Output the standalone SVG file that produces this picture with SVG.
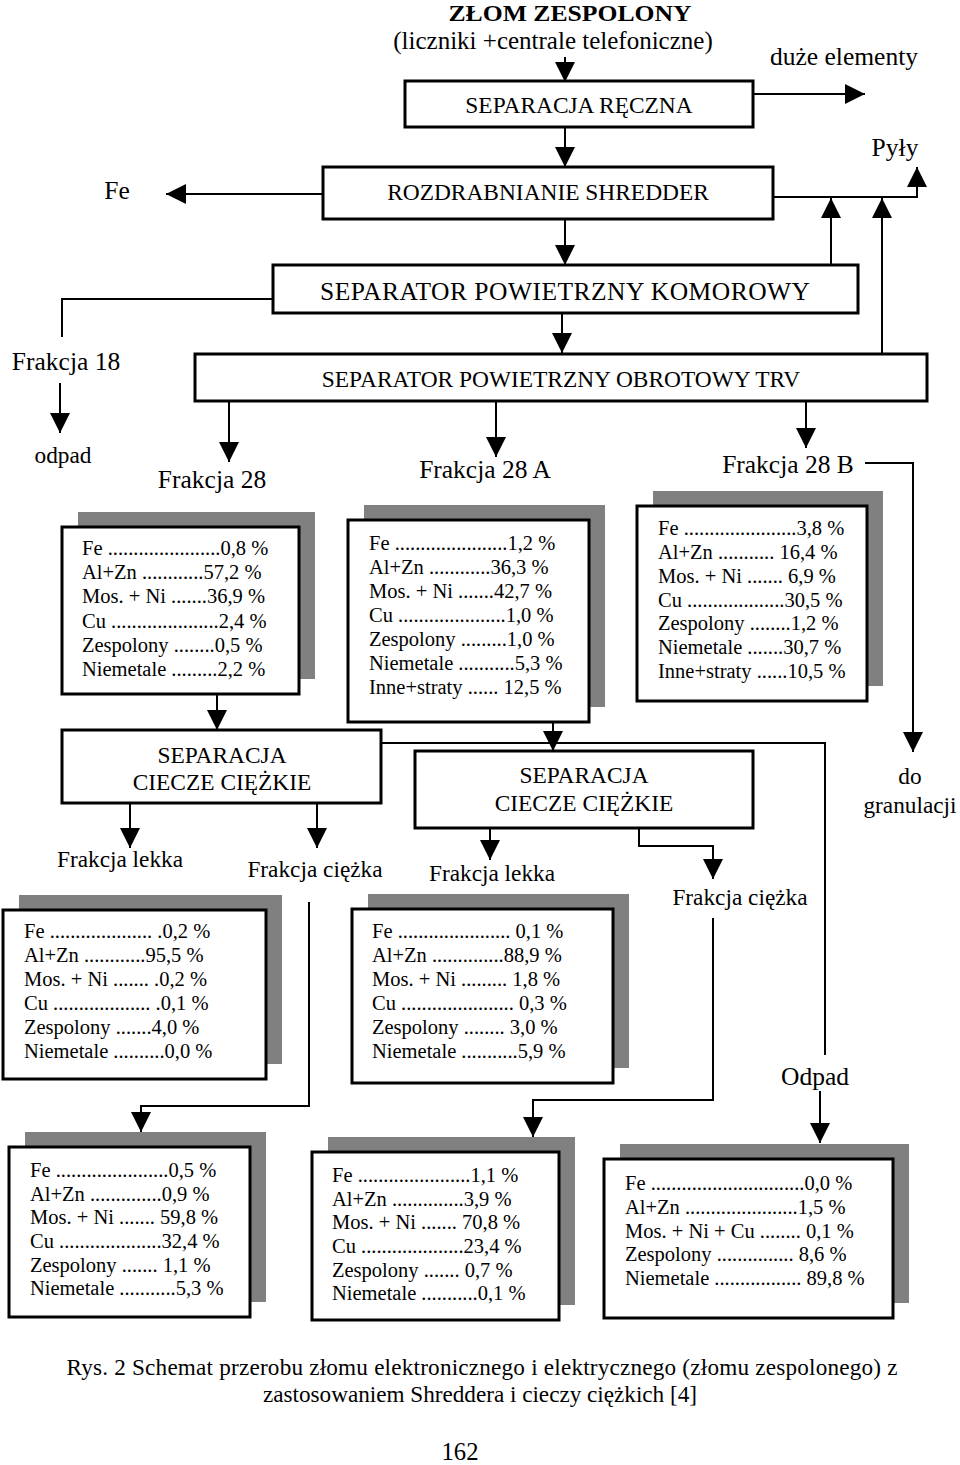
<svg xmlns="http://www.w3.org/2000/svg" width="960" height="1465" viewBox="0 0 960 1465">
<defs>
<style>
.t{font-family:"Liberation Serif","Times New Roman",serif;fill:#000;white-space:pre}
.h{font-size:23.4px;text-anchor:middle}
.l{font-size:25.5px;text-anchor:middle}
.m{font-size:23.3px;text-anchor:middle}
.d{font-size:20.5px}
.box{fill:#fff;stroke:#000;stroke-width:3}
.sh{fill:#808080}
.c{fill:none;stroke:#000;stroke-width:2}
.a{marker-end:url(#ah)}
</style>
<marker id="ah" markerUnits="userSpaceOnUse" markerWidth="20" markerHeight="20" refX="20" refY="10" orient="auto" viewBox="0 0 20 20"><path d="M0,0 L20,10 L0,20 Z" fill="#000"/></marker>
</defs>
<rect width="960" height="1465" fill="#fff"/>

<g id="title" class="t">
<text x="570" y="21" style="font-size:23.8px;font-weight:bold;text-anchor:middle" textLength="243" lengthAdjust="spacingAndGlyphs">ZŁOM ZESPOLONY</text>
<text x="553" y="49" style="font-size:25px;text-anchor:middle">(liczniki +centrale telefoniczne)</text>
</g>
<g id="separacja-reczna" class="t">
<rect class="box" x="405" y="81" width="348" height="46"/>
<text x="579" y="113" class="h">SEPARACJA RĘCZNA</text>
</g>
<g id="duze-elementy" class="t"><text x="844" y="65" class="l">duże elementy</text></g>
<g id="shredder" class="t">
<rect class="box" x="323" y="167" width="450" height="52"/>
<text x="548" y="200" class="h">ROZDRABNIANIE  SHREDDER</text>
</g>
<g id="fe" class="t"><text x="117" y="199" class="l">Fe</text></g>
<g id="pyly" class="t"><text x="895" y="156" class="l">Pyły</text></g>
<g id="komorowy" class="t">
<rect class="box" x="273" y="265" width="585" height="48"/>
<text x="565" y="300" style="font-size:25.5px;text-anchor:middle" textLength="490" lengthAdjust="spacing">SEPARATOR POWIETRZNY KOMOROWY</text>
</g>
<g id="frakcja-18" class="t"><text x="66" y="370" class="l">Frakcja 18</text></g>
<g id="odpad-18" class="t"><text x="63" y="463" class="m">odpad</text></g>
<g id="trv" class="t">
<rect class="box" x="195" y="354" width="732" height="47"/>
<text x="561" y="387" class="h">SEPARATOR POWIETRZNY OBROTOWY TRV</text>
</g>
<g id="frakcja-28-label" class="t"><text x="212" y="488" class="l">Frakcja 28</text></g>
<g id="frakcja-28a-label" class="t"><text x="485" y="478" class="l">Frakcja 28 A</text></g>
<g id="frakcja-28b-label" class="t"><text x="788" y="473" class="l">Frakcja 28 B</text></g>

<g id="box-28" class="t d">
<rect class="sh" x="78" y="512" width="237" height="167"/>
<rect class="box" x="62" y="527" width="237" height="167"/>
<text x="82" y="555">Fe ......................0,8 %</text>
<text x="82" y="579">Al+Zn ............57,2 %</text>
<text x="82" y="603">Mos. + Ni .......36,9 %</text>
<text x="82" y="628">Cu .....................2,4 %</text>
<text x="82" y="652">Zespolony  ........0,5 %</text>
<text x="82" y="676">Niemetale .........2,2 %</text>
</g>
<g id="box-28a" class="t d">
<rect class="sh" x="364" y="505" width="241" height="202"/>
<rect class="box" x="348" y="520" width="241" height="202"/>
<text x="369" y="550">Fe ......................1,2 %</text>
<text x="369" y="574">Al+Zn ............36,3  %</text>
<text x="369" y="598">Mos. + Ni .......42,7  %</text>
<text x="369" y="622">Cu .....................1,0  %</text>
<text x="369" y="646">Zespolony  .........1,0  %</text>
<text x="369" y="670">Niemetale ...........5,3 %</text>
<text x="369" y="694">Inne+straty ...... 12,5 %</text>
</g>
<g id="box-28b" class="t d">
<rect class="sh" x="653" y="491" width="230" height="195"/>
<rect class="box" x="637" y="506" width="230" height="195"/>
<text x="658" y="535">Fe ......................3,8 %</text>
<text x="658" y="559">Al+Zn ........... 16,4 %</text>
<text x="658" y="583">Mos. + Ni .......  6,9  %</text>
<text x="658" y="607">Cu ...................30,5  %</text>
<text x="658" y="630">Zespolony  ........1,2  %</text>
<text x="658" y="654">Niemetale .......30,7  %</text>
<text x="658" y="678">Inne+straty ......10,5 %</text>
</g>
<g id="do-granulacji" class="t">
<text x="910" y="784" class="m">do</text>
<text x="910" y="813" class="m">granulacji</text>
</g>
<g id="separacja-ciecze-1" class="t">
<rect class="box" x="62" y="730" width="319" height="73"/>
<text x="222" y="763" class="h">SEPARACJA</text>
<text x="222" y="790" class="h">CIECZE CIĘŻKIE</text>
</g>
<g id="separacja-ciecze-2" class="t">
<rect class="box" x="415" y="751" width="338" height="77"/>
<text x="584" y="783" class="h">SEPARACJA</text>
<text x="584" y="811" class="h">CIECZE CIĘŻKIE</text>
</g>
<g id="labels-frakcje" class="t">
<text x="120" y="867" class="m">Frakcja lekka</text>
<text x="315" y="877" class="m">Frakcja ciężka</text>
<text x="492" y="881" class="m">Frakcja lekka</text>
<text x="740" y="905" class="m">Frakcja ciężka</text>
</g>
<g id="odpad-2" class="t"><text x="815" y="1085" class="l">Odpad</text></g>

<g id="box-lekka-1" class="t d">
<rect class="sh" x="19" y="895" width="263" height="169"/>
<rect class="box" x="3" y="910" width="263" height="169"/>
<text x="24" y="938">Fe .................... .0,2 %</text>
<text x="24" y="962">Al+Zn ............95,5  %</text>
<text x="24" y="986">Mos. + Ni ....... .0,2  %</text>
<text x="24" y="1010">Cu ................... .0,1  %</text>
<text x="24" y="1034">Zespolony   .......4,0  %</text>
<text x="24" y="1058">Niemetale ..........0,0  %</text>
</g>
<g id="box-lekka-2" class="t d">
<rect class="sh" x="368" y="894" width="261" height="174"/>
<rect class="box" x="352" y="909" width="261" height="174"/>
<text x="372" y="938">Fe ...................... 0,1  %</text>
<text x="372" y="962">Al+Zn ..............88,9  %</text>
<text x="372" y="986">Mos. + Ni .........  1,8  %</text>
<text x="372" y="1010">Cu ...................... 0,3  %</text>
<text x="372" y="1034">Zespolony  ........ 3,0  %</text>
<text x="372" y="1058">Niemetale ...........5,9  %</text>
</g>
<g id="box-ciezka-1" class="t d">
<rect class="sh" x="25" y="1132" width="241" height="170"/>
<rect class="box" x="9" y="1147" width="241" height="170"/>
<text x="30" y="1177">Fe ......................0,5  %</text>
<text x="30" y="1201">Al+Zn ..............0,9  %</text>
<text x="30" y="1224">Mos. + Ni ....... 59,8  %</text>
<text x="30" y="1248">Cu ....................32,4  %</text>
<text x="30" y="1272">Zespolony   ....... 1,1 %</text>
<text x="30" y="1295">Niemetale ...........5,3 %</text>
</g>
<g id="box-ciezka-2" class="t d">
<rect class="sh" x="328" y="1137" width="247" height="168"/>
<rect class="box" x="312" y="1152" width="247" height="168"/>
<text x="332" y="1182">Fe ......................1,1  %</text>
<text x="332" y="1206">Al+Zn ..............3,9  %</text>
<text x="332" y="1229">Mos. + Ni ....... 70,8  %</text>
<text x="332" y="1253">Cu ....................23,4  %</text>
<text x="332" y="1277">Zespolony   ....... 0,7 %</text>
<text x="332" y="1300">Niemetale ...........0,1 %</text>
</g>
<g id="box-odpad" class="t d">
<rect class="sh" x="620" y="1144" width="289" height="159"/>
<rect class="box" x="604" y="1159" width="289" height="159"/>
<text x="625" y="1190">Fe ..............................0,0  %</text>
<text x="625" y="1214">Al+Zn ......................1,5  %</text>
<text x="625" y="1238">Mos. + Ni + Cu ........ 0,1  %</text>
<text x="625" y="1261">Zespolony   ............... 8,6 %</text>
<text x="625" y="1285">Niemetale ................. 89,8 %</text>
</g>

<g id="connectors">
<path class="c a" d="M565,57 V82"/>
<path class="c a" d="M753,94 H865"/>
<path class="c a" d="M565,127 V167"/>
<path class="c a" d="M323,194 H166"/>
<path class="c a" d="M773,197 H917 V167"/>
<path class="c a" d="M831,265 V198"/>
<path class="c a" d="M882,354 V198"/>
<path class="c a" d="M565,219 V265"/>
<path class="c" d="M273,299 H62 V337"/>
<path class="c a" d="M60,383 V433"/>
<path class="c a" d="M562,313 V353"/>
<path class="c a" d="M229,401 V462"/>
<path class="c a" d="M496,401 V457"/>
<path class="c a" d="M806,401 V448"/>
<path class="c a" d="M865,463 H913 V752"/>
<path class="c a" d="M217,694 V730"/>
<path class="c a" d="M553,722 V751"/>
<path class="c" d="M381,743 H825 V1055"/>
<path class="c a" d="M130,803 V848"/>
<path class="c a" d="M317,803 V848"/>
<path class="c a" d="M309,902 V1106 H141 V1132"/>
<path class="c a" d="M490,828 V860"/>
<path class="c a" d="M639,828 V846 H713 V879"/>
<path class="c a" d="M713,918 V1100 H533 V1137"/>
<path class="c a" d="M820,1091 V1143"/>
</g>

<g id="caption" class="t">
<text x="482" y="1375" style="font-size:23.2px;text-anchor:middle" textLength="831" lengthAdjust="spacing">Rys. 2  Schemat przerobu złomu elektronicznego i elektrycznego (złomu zespolonego) z</text>
<text x="480" y="1402" style="font-size:23.2px;text-anchor:middle" textLength="434" lengthAdjust="spacing">zastosowaniem Shreddera i cieczy ciężkich [4]</text>
<text x="460" y="1460" style="font-size:24.7px;text-anchor:middle">162</text>
</g>
</svg>
